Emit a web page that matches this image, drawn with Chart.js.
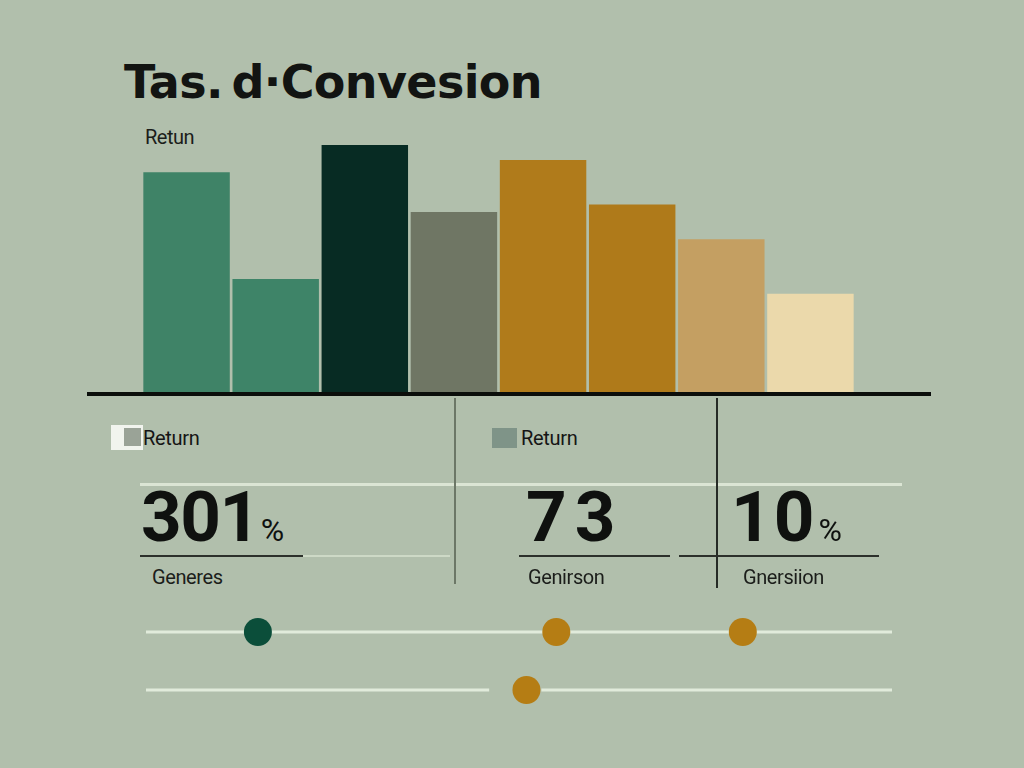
<!DOCTYPE html>
<html>
<head>
<meta charset="utf-8">
<script src="https://cdn.jsdelivr.net/npm/chart.js@4.4.0/dist/chart.umd.min.js"></script>
<style>
  html, body { margin: 0; padding: 0; }
  body { width: 1024px; height: 768px; background: #b1bfac; position: relative; overflow: hidden; font-family: Roboto, 'Noto Sans', sans-serif; color: #151515; }
  canvas { position: absolute; left: 0; }
  .abs { position: absolute; white-space: nowrap; }
  .title { left: 124px; top: 56px; font-family: 'DejaVu Sans', sans-serif; font-weight: 700; font-size: 46px; line-height: 52px; color: #121412; }
  .sub { left: 145px; top: 125px; font-size: 20px; color: #1b1d1a; letter-spacing: -0.5px; }
  .legend { font-size: 20px; line-height: 24px; color: #151515; letter-spacing: -0.3px; }
  .swatch { position: absolute; }
  .big { font-weight: 700; font-size: 71px; line-height: 70px; color: #0f110f; }
  .big span { font-size: 32px; font-weight: 400; letter-spacing: 0; margin-left: 2px; }
  .lbl { font-size: 20px; color: #1b1d1a; letter-spacing: -0.4px; }
  .rule { position: absolute; }
</style>
</head>
<body>
<div class="abs title" id="title"></div>
<div class="abs sub" id="sub"></div>
<canvas id="bars" width="1024" height="420" style="top:0"></canvas>
<div id="kpis"></div>
<canvas id="dots" width="1024" height="120" style="top:600px"></canvas>
<script>
// chart data
const chartTitle = 'Tas.\u2009d\u00b7Convesion'
const axisCaption = 'Retun'
const barLabels = ['A', 'B', 'C', 'D', 'E', 'F', 'G', 'H']
const barValues = [89, 46, 100, 73, 94, 76, 62, 40]
const barColors = ['#3f8367', '#3e8468', '#072b23', '#6f7664', '#b07b1b', '#af7a1a', '#c49f62', '#ebd9ab']

// summary figures
const legendLabels = ['Return', 'Return']
const kpiValues = ['301', '73', '10']
const kpiUnits = ['%', '', '%']
const kpiLabels = ['Generes', 'Genirson', 'Gnersiion']

// slider tracks
const upperDots = [15, 55, 80]
const upperDotColors = ['#0b4e3a', '#b57d14', '#b57d14']
const lowerDots = [51]
const lowerDotColors = ['#b57d14']
const lowerTrackX = [0, 46, null, 53, 100]

const titleEl = document.getElementById('title')
titleEl.textContent = chartTitle
// nudge the title's letter spacing to the width it has in the picture
const titleWidth = titleEl.getBoundingClientRect().width
titleEl.style.letterSpacing = ((418 - titleWidth) / chartTitle.length) + 'px'
document.getElementById('sub').textContent = axisCaption

const baseline = {
  id: 'baseline',
  afterDatasetsDraw (chart) {
    const { ctx, chartArea } = chart
    ctx.save()
    ctx.strokeStyle = '#0b0e0b'
    ctx.lineWidth = 4
    ctx.beginPath()
    ctx.moveTo(chartArea.left - 55, chartArea.bottom + 1)
    ctx.lineTo(chartArea.right + 76, chartArea.bottom + 1)
    ctx.stroke()
    ctx.restore()
  }
}

new Chart(document.getElementById('bars'), {
  type: 'bar',
  data: {
    labels: barLabels,
    datasets: [{
      data: barValues,
      backgroundColor: barColors,
      borderWidth: 0,
      categoryPercentage: 1,
      barPercentage: 0.97
    }]
  },
  options: {
    responsive: false,
    animation: { duration: 0 },
    layout: { padding: { left: 142, right: 169, top: 145, bottom: 27 } },
    scales: {
      x: { display: false },
      y: { display: false, min: 0, max: 100 }
    },
    plugins: { legend: { display: false }, tooltip: { enabled: false } }
  },
  plugins: [baseline]
})

// summary panel
const kpis = document.getElementById('kpis')
function add (html) { kpis.insertAdjacentHTML('beforeend', html) }

add('<div class="swatch" style="left:111px;top:425px;width:32px;height:25px;background:#f1f4ee"></div>')
add('<div class="swatch" style="left:124px;top:428px;width:17px;height:18px;background:#9aa397"></div>')
add(`<div class="abs legend" style="left:143px;top:426px">${legendLabels[0]}</div>`)
add('<div class="swatch" style="left:492px;top:428px;width:25px;height:20px;background:#7f9488"></div>')
add(`<div class="abs legend" style="left:521px;top:426px">${legendLabels[1]}</div>`)

add('<div class="rule" style="left:140px;top:483px;width:762px;height:3px;background:#dbe5d4"></div>')
add('<div class="rule" style="left:454px;top:398px;width:2px;height:186px;background:#6c7767"></div>')
add('<div class="rule" style="left:716px;top:398px;width:2px;height:190px;background:#262b26"></div>')
add('<div class="rule" style="left:140px;top:555px;width:163px;height:2px;background:#2c302b"></div>')
add('<div class="rule" style="left:303px;top:555px;width:147px;height:2px;background:#cdd9c6"></div>')
add('<div class="rule" style="left:519px;top:555px;width:151px;height:2px;background:#2c302b"></div>')
add('<div class="rule" style="left:679px;top:555px;width:200px;height:2px;background:#2c302b"></div>')

const kpiX = [141, 526, 731]
const kpiSpacing = [-1.5, 8, 2]
const labelX = [152, 528, 743]
kpiValues.forEach((v, i) => {
  const unit = kpiUnits[i] ? `<span>${kpiUnits[i]}</span>` : ''
  add(`<div class="abs big" style="left:${kpiX[i]}px;top:482px;letter-spacing:${kpiSpacing[i]}px">${v}${unit}</div>`)
  add(`<div class="abs lbl" style="left:${labelX[i]}px;top:565px">${kpiLabels[i]}</div>`)
})

// slider tracks with dots
new Chart(document.getElementById('dots'), {
  type: 'scatter',
  data: {
    datasets: [
      {
        data: upperDots.map((x) => ({ x, y: 1 })),
        pointRadius: 14,
        pointBackgroundColor: upperDotColors,
        pointBorderWidth: 0,
        showLine: false,
        clip: false
      },
      {
        data: lowerDots.map((x) => ({ x, y: 0 })),
        pointRadius: 14,
        pointBackgroundColor: lowerDotColors,
        pointBorderWidth: 0,
        showLine: false,
        clip: false
      },
      {
        data: [{ x: 0, y: 1 }, { x: 100, y: 1 }],
        showLine: true,
        borderColor: '#e1ebdb',
        borderWidth: 3,
        pointRadius: 0,
        clip: false
      },
      {
        data: lowerTrackX.map((x) => (x === null ? { x: null, y: null } : { x, y: 0 })),
        showLine: true,
        spanGaps: false,
        borderColor: '#e1ebdb',
        borderWidth: 3,
        pointRadius: 0,
        clip: false
      }
    ]
  },
  options: {
    responsive: false,
    animation: { duration: 0 },
    layout: { padding: { left: 146, right: 132, top: 32, bottom: 30 } },
    scales: {
      x: { type: 'linear', display: false, min: 0, max: 100 },
      y: { display: false, min: 0, max: 1 }
    },
    plugins: { legend: { display: false }, tooltip: { enabled: false } }
  }
})
</script>
</body>
</html>
